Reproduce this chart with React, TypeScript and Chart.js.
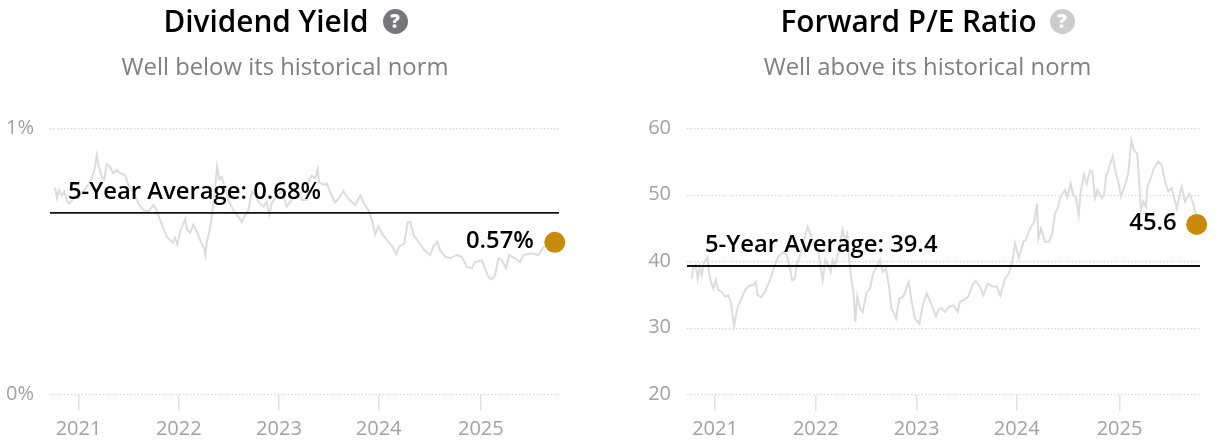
import React, { useEffect, useRef } from "react";
import { Chart, registerables } from "chart.js";

Chart.register(...registerables);

const yieldYears = [2020.765,2020.785,2020.805,2020.832,2020.858,2020.885,2020.905,2020.932,2020.965,2020.998,2021.045,2021.095,2021.132,2021.158,2021.182,2021.198,2021.232,2021.257,2021.281,2021.314,2021.347,2021.381,2021.414,2021.464,2021.497,2021.547,2021.597,2021.647,2021.697,2021.747,2021.78,2021.813,2021.846,2021.88,2021.913,2021.94,2021.963,2021.986,2022.013,2022.04,2022.063,2022.086,2022.113,2022.146,2022.186,2022.22,2022.246,2022.266,2022.28,2022.306,2022.33,2022.346,2022.366,2022.382,2022.405,2022.429,2022.462,2022.495,2022.545,2022.595,2022.629,2022.662,2022.695,2022.729,2022.762,2022.795,2022.845,2022.878,2022.904,2022.928,2022.978,2023.028,2023.078,2023.128,2023.194,2023.228,2023.278,2023.293,2023.327,2023.36,2023.387,2023.4,2023.443,2023.477,2023.51,2023.56,2023.6,2023.643,2023.687,2023.727,2023.76,2023.787,2023.813,2023.853,2023.9,2023.933,2023.96,2023.993,2024.042,2024.092,2024.132,2024.172,2024.198,2024.251,2024.285,2024.311,2024.345,2024.391,2024.451,2024.508,2024.541,2024.581,2024.608,2024.658,2024.708,2024.774,2024.824,2024.874,2024.924,2024.957,2025.024,2025.057,2025.09,2025.124,2025.157,2025.19,2025.224,2025.266,2025.299,2025.356,2025.406,2025.439,2025.523,2025.589,2025.639,2025.689,2025.753];
const yieldValues = [0.78,0.74,0.77,0.75,0.765,0.73,0.72,0.73,0.75,0.74,0.765,0.79,0.815,0.845,0.9,0.865,0.82,0.81,0.867,0.858,0.834,0.846,0.834,0.827,0.79,0.765,0.72,0.695,0.69,0.714,0.695,0.658,0.627,0.595,0.583,0.573,0.59,0.567,0.614,0.64,0.66,0.62,0.61,0.64,0.61,0.576,0.558,0.526,0.576,0.614,0.67,0.727,0.79,0.858,0.81,0.82,0.778,0.733,0.695,0.67,0.65,0.677,0.695,0.765,0.75,0.727,0.708,0.727,0.677,0.72,0.75,0.765,0.708,0.733,0.76,0.733,0.733,0.8,0.825,0.815,0.85,0.8,0.79,0.795,0.765,0.724,0.74,0.767,0.74,0.727,0.714,0.733,0.75,0.717,0.69,0.65,0.604,0.633,0.6,0.576,0.558,0.529,0.558,0.57,0.649,0.65,0.6,0.576,0.545,0.526,0.558,0.576,0.545,0.52,0.514,0.526,0.52,0.482,0.476,0.5,0.507,0.476,0.445,0.435,0.451,0.514,0.507,0.476,0.526,0.514,0.5,0.526,0.533,0.526,0.555,0.564,0.574];
const yieldAverage = 0.685;
const yieldLatestYear = [2025.753];
const yieldLatestValue = [0.574];
const yieldTicks = [0, 1];

const peYears = [2020.769,2020.782,2020.808,2020.828,2020.848,2020.868,2020.894,2020.924,2020.94,2020.96,2020.983,2021.007,2021.033,2021.067,2021.099,2021.132,2021.159,2021.176,2021.189,2021.208,2021.231,2021.265,2021.298,2021.347,2021.38,2021.404,2021.424,2021.457,2021.496,2021.546,2021.589,2021.628,2021.678,2021.712,2021.744,2021.767,2021.794,2021.814,2021.844,2021.866,2021.893,2021.92,2021.943,2021.983,2022.025,2022.049,2022.069,2022.095,2022.125,2022.148,2022.168,2022.191,2022.214,2022.241,2022.267,2022.287,2022.313,2022.333,2022.353,2022.373,2022.393,2022.412,2022.439,2022.466,2022.506,2022.538,2022.571,2022.605,2022.638,2022.665,2022.697,2022.73,2022.75,2022.777,2022.797,2022.829,2022.869,2022.923,2022.952,2022.985,2023.028,2023.062,2023.101,2023.151,2023.194,2023.216,2023.25,2023.283,2023.323,2023.365,2023.409,2023.432,2023.474,2023.514,2023.554,2023.588,2023.63,2023.663,2023.707,2023.752,2023.796,2023.832,2023.878,2023.918,2023.951,2023.978,2024.017,2024.06,2024.084,2024.127,2024.169,2024.196,2024.209,2024.236,2024.275,2024.315,2024.348,2024.375,2024.407,2024.424,2024.451,2024.474,2024.497,2024.53,2024.556,2024.583,2024.61,2024.63,2024.663,2024.69,2024.722,2024.745,2024.772,2024.795,2024.838,2024.861,2024.881,2024.914,2024.947,2024.98,2025.003,2025.03,2025.069,2025.102,2025.132,2025.159,2025.192,2025.211,2025.228,2025.251,2025.278,2025.291,2025.325,2025.357,2025.4,2025.434,2025.467,2025.499,2025.533,2025.583,2025.632,2025.665,2025.708,2025.747,2025.771,2025.781];
const peValues = [37.5,39.05,39.55,37.5,39.3,38.05,40.05,40.7,38.5,37,36,37.3,35.8,35.5,34.8,35,33.8,31.8,30.4,32,33.5,34.5,35.8,36.5,36.5,37,35,34.7,35.5,37.3,39.3,40.8,41.5,41.05,39.05,37.2,37.5,39.8,41.05,42.3,43.8,45.3,44.3,42.8,41.55,39.05,37.3,40.3,39.55,38.5,40.3,39.3,40.8,42.8,44.8,43.3,44.3,40.3,37.3,35.8,31,34.8,33.05,32.5,35.5,36,38.3,39.3,40.3,38.5,39.05,36,33.05,32.3,31.5,34.5,34.8,37,34.05,31.5,30.7,33.5,35.3,33.5,31.8,32.8,33.05,32.5,33.3,33.5,32.5,34.05,34.3,34.8,36.5,37.2,36.3,35,36.8,36.3,36.3,34.9,37.5,38.3,40.05,42.8,40.55,43.05,43.3,45.05,46.05,48.8,43.55,45.05,43.05,43.05,44.3,47.3,48.3,49.6,50.3,50.8,49.8,51.8,50.1,49.6,47.1,50.6,53.1,51.8,53.7,53.6,49.6,50.8,49.6,50.1,52.8,54.3,55.9,53.3,52.1,49.8,51.6,53.3,58.3,56.8,56.3,51.8,47.8,49.1,48.3,51.3,52.6,54.1,55.1,54.6,52.1,50.6,51.1,48.1,51.3,49.1,50.3,48.8,47.3,45.65];
const peAverage = 39.4;
const peLatestYear = [2025.781];
const peLatestValue = [45.65];
const peTicks = [20, 30, 40, 50, 60];

const tickYearPositions = [2021, 2022, 2023, 2023.995, 2025.015];

const FONT = "'Open Sans', sans-serif";

type PanelProps = {
  left: number; width: number; plotLeft: number; plotRight: number;
  xMin: number; xMax: number; years: number[]; values: number[]; average: number;
  latestYear: number[]; latestValue: number[]; yTicks: number[]; yFormat: (v: number) => string;
  avgText: string; latestText: string; latestGap: number;
};

function Panel(p: PanelProps) {
  const ref = useRef<HTMLCanvasElement | null>(null);
  useEffect(() => {
    const labelPlugin = {
      id: "labels",
      afterDatasetsDraw(chart: any) {
        const { ctx, chartArea, scales } = chart;
        ctx.save();
        ctx.font = `600 23.8px ${FONT}`;
        ctx.fillStyle = "#000";
        ctx.textBaseline = "middle";
        ctx.shadowColor = "rgba(255,255,255,0.9)";
        ctx.shadowBlur = 3;
        ctx.textAlign = "left";
        ctx.fillText(p.avgText, chartArea.left + 18, scales.y.getPixelForValue(p.average) - 21);
        ctx.textAlign = "right";
        ctx.fillText(
          p.latestText,
          scales.x.getPixelForValue(p.latestYear[0]) - p.latestGap,
          scales.y.getPixelForValue(p.latestValue[0]) - 1
        );
        ctx.restore();
      },
    };
    const chart = new Chart(ref.current as HTMLCanvasElement, {
      type: "line",
      data: {
        datasets: [
          {
            data: p.latestYear.map((x, i) => ({ x, y: p.latestValue[i] })),
            pointRadius: 10.5, pointBackgroundColor: "#c98a08", pointBorderWidth: 0,
            showLine: false, clip: false, order: 0,
          },
          {
            data: [{ x: p.xMin, y: p.average }, { x: p.xMax, y: p.average }],
            borderColor: "#111", borderWidth: 1.8, pointRadius: 0, order: 1,
          },
          {
            data: p.years.map((x, i) => ({ x, y: p.values[i] })),
            borderColor: "#dcdcdc", borderWidth: 2, pointRadius: 0, tension: 0, order: 2,
          },
        ],
      } as any,
      options: {
        responsive: false,
        animation: false,
        layout: { padding: { top: 129, bottom: 0, left: 0, right: p.width - p.plotRight } },
        plugins: { legend: { display: false }, tooltip: { enabled: false }, title: { display: false } },
        scales: {
          x: {
            type: "linear", min: p.xMin, max: p.xMax,
            afterFit: (s: any) => { s.height = 50; },
            afterBuildTicks: (s: any) => { s.ticks = tickYearPositions.map((value) => ({ value })); },
            border: { display: false },
            grid: { drawOnChartArea: false, drawTicks: true, tickLength: 16, tickColor: "#e2e2e2", lineWidth: 1.5 },
            ticks: {
              autoSkip: false, maxRotation: 0, padding: 6, color: "#a3a1a1",
              font: { family: FONT, size: 20 },
              callback: (v: any) => String(Math.round(Number(v))),
            },
          },
          y: {
            type: "linear", min: p.yTicks[0], max: p.yTicks[p.yTicks.length - 1],
            afterFit: (s: any) => { s.width = p.plotLeft; },
            afterBuildTicks: (s: any) => { s.ticks = p.yTicks.map((value) => ({ value })); },
            border: { display: false, dash: [1.5, 2] },
            grid: { color: "#d8d8d8", lineWidth: 1.2, drawTicks: false },
            ticks: {
              padding: 16, color: "#a3a1a1", labelOffset: -1,
              font: { family: FONT, size: 20 },
              callback: (v: any) => p.yFormat(Number(v)),
            },
          },
        },
      } as any,
      plugins: [labelPlugin],
    });
    return () => chart.destroy();
  }, []);
  return (
    <canvas
      ref={ref}
      width={p.width}
      height={445}
      style={{ position: "absolute", left: p.left, top: 0, width: p.width, height: 445 }}
    />
  );
}

function Centered(props: { x: number; y: number; size: number; weight: number; color: string; text: string }) {
  return (
    <div
      style={{
        position: "absolute", left: props.x, top: props.y, transform: "translate(-50%,-50%)",
        font: `${props.weight} ${props.size}px ${FONT}`, color: props.color, whiteSpace: "nowrap",
      }}
    >
      {props.text}
    </div>
  );
}

function HelpIcon(props: { x: number; y: number; color: string }) {
  return (
    <div
      style={{
        position: "absolute", left: props.x - 12.5, top: props.y - 12.5, width: 25, height: 25, borderRadius: "50%",
        background: props.color, color: "#fff", font: `800 19px/25px ${FONT}`, textAlign: "center",
      }}
    >
      ?
    </div>
  );
}

export default function App() {
  return (
    <div style={{ position: "absolute", left: 0, top: 0, width: 1222, height: 445, background: "#fff", overflow: "hidden" }}>
      <Panel
        left={0} width={611} plotLeft={50} plotRight={559} xMin={2020.715} xMax={2025.795}
        years={yieldYears} values={yieldValues} average={yieldAverage}
        latestYear={yieldLatestYear} latestValue={yieldLatestValue} yTicks={yieldTicks}
        yFormat={(v) => `${v}%`} avgText="5-Year Average: 0.68%" latestText="0.57%" latestGap={21}
      />
      <Panel
        left={611} width={611} plotLeft={76} plotRight={589} xMin={2020.722} xMax={2025.814}
        years={peYears} values={peValues} average={peAverage}
        latestYear={peLatestYear} latestValue={peLatestValue} yTicks={peTicks}
        yFormat={(v) => `${v}`} avgText="5-Year Average: 39.4" latestText="45.6" latestGap={20}
      />
      <Centered x={266} y={20} size={29.75} weight={600} color="#000" text="Dividend Yield" />
      <HelpIcon x={395} y={21} color="#77777b" />
      <Centered x={285} y={65.5} size={23.85} weight={400} color="#7f7f7f" text="Well below its historical norm" />
      <Centered x={908.5} y={20} size={29.75} weight={600} color="#000" text="Forward P/E Ratio" />
      <HelpIcon x={1062} y={21} color="#cccccc" />
      <Centered x={927.5} y={65.5} size={23.85} weight={400} color="#7f7f7f" text="Well above its historical norm" />
    </div>
  );
}
